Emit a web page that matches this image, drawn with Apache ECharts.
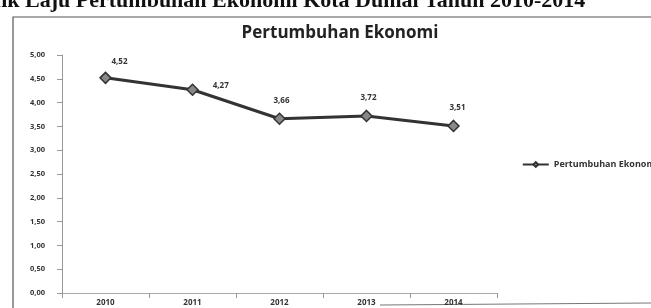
<!DOCTYPE html>
<html>
<head>
<meta charset="utf-8">
<script src="https://cdn.jsdelivr.net/npm/echarts@6/dist/echarts.min.js"></script>
<style>
  html, body { margin: 0; padding: 0; background: #fff; }
  #chart { width: 651px; height: 308px; }
</style>
</head>
<body>
<div id="chart"></div>
<script>
const years = ['2010', '2011', '2012', '2013', '2014']
const growth = [4.52, 4.27, 3.66, 3.72, 3.51]
const yTicks = { min: 0, max: 5, interval: 0.5 }

const fmt = v => v.toFixed(2).replace('.', ',')

// label placement as in the scan: first two sit to the right
const labelPos = ['top', 'right', 'top', 'top', 'top']
const labelOffset = [[14, 2], [6, -4], [2, 0], [2, 0], [4, 0]]

const chart = echarts.init(document.getElementById('chart'))

chart.setOption({
  backgroundColor: '#fff',
  animation: false,
  title: {
    text: 'Pertumbuhan Ekonomi',
    left: 335,
    textAlign: 'center',
    top: 20,
    textStyle: { fontFamily: 'Open Sans', fontWeight: 'bold', fontSize: 17, color: '#222' },
  },
  graphic: [
    {
      type: 'text',
      left: -44,
      top: -10,
      style: {
        text: 'Grafik Laju Pertumbuhan Ekonomi Kota Dumai Tahun 2010-2014',
        font: 'bold 22px "Liberation Serif"',
        fill: '#111',
      },
    },
    {
      // scanned frame around the chart
      type: 'polyline',
      shape: { points: [[13, 308], [13, 17], [651, 17]] },
      style: { stroke: '#555', lineWidth: 1.2, fill: null },
    },
    {
      type: 'line',
      shape: { x1: 380, y1: 305, x2: 651, y2: 303 },
      style: { stroke: '#777', lineWidth: 1 },
    },
  ],
  legend: {
    right: -12,
    top: 155,
    itemWidth: 26,
    itemHeight: 6,
    textStyle: { fontFamily: 'Open Sans', fontSize: 9, color: '#333', fontWeight: 'bold' },
    itemGap: 2,
  },
  grid: { left: 62, right: 154, top: 55, bottom: 15 },
  xAxis: {
    type: 'category',
    data: years,
    axisLine: { lineStyle: { color: '#aaa' } },
    axisTick: { show: true, alignWithLabel: false, lineStyle: { color: '#999' } },
    axisLabel: { fontFamily: 'Open Sans', fontWeight: 'bold', fontSize: 8, color: '#333', margin: 6 },
  },
  yAxis: {
    type: 'value',
    min: yTicks.min,
    max: yTicks.max,
    interval: yTicks.interval,
    axisLine: { show: true, lineStyle: { color: '#999' } },
    axisTick: { show: true, lineStyle: { color: '#999' } },
    splitLine: { show: false },
    axisLabel: {
      formatter: v => fmt(v),
      fontFamily: 'Open Sans', fontWeight: 'bold', fontSize: 7.5, color: '#333', margin: 17,
    },
  },
  series: [
    {
      name: 'Pertumbuhan Ekonomi',
      type: 'line',
      data: growth.map((v, i) => ({
        value: v,
        label: { position: labelPos[i], offset: labelOffset[i] },
      })),
      symbol: 'diamond',
      symbolSize: 11,
      lineStyle: { color: '#333', width: 3 },
      itemStyle: { color: '#888', borderColor: '#333', borderWidth: 1.5 },
      label: {
        show: true,
        distance: 8,
        formatter: p => fmt(p.value),
        fontFamily: 'Open Sans', fontWeight: 'bold', fontSize: 8, color: '#333',
      },
    },
  ],
})
</script>
</body>
</html>
